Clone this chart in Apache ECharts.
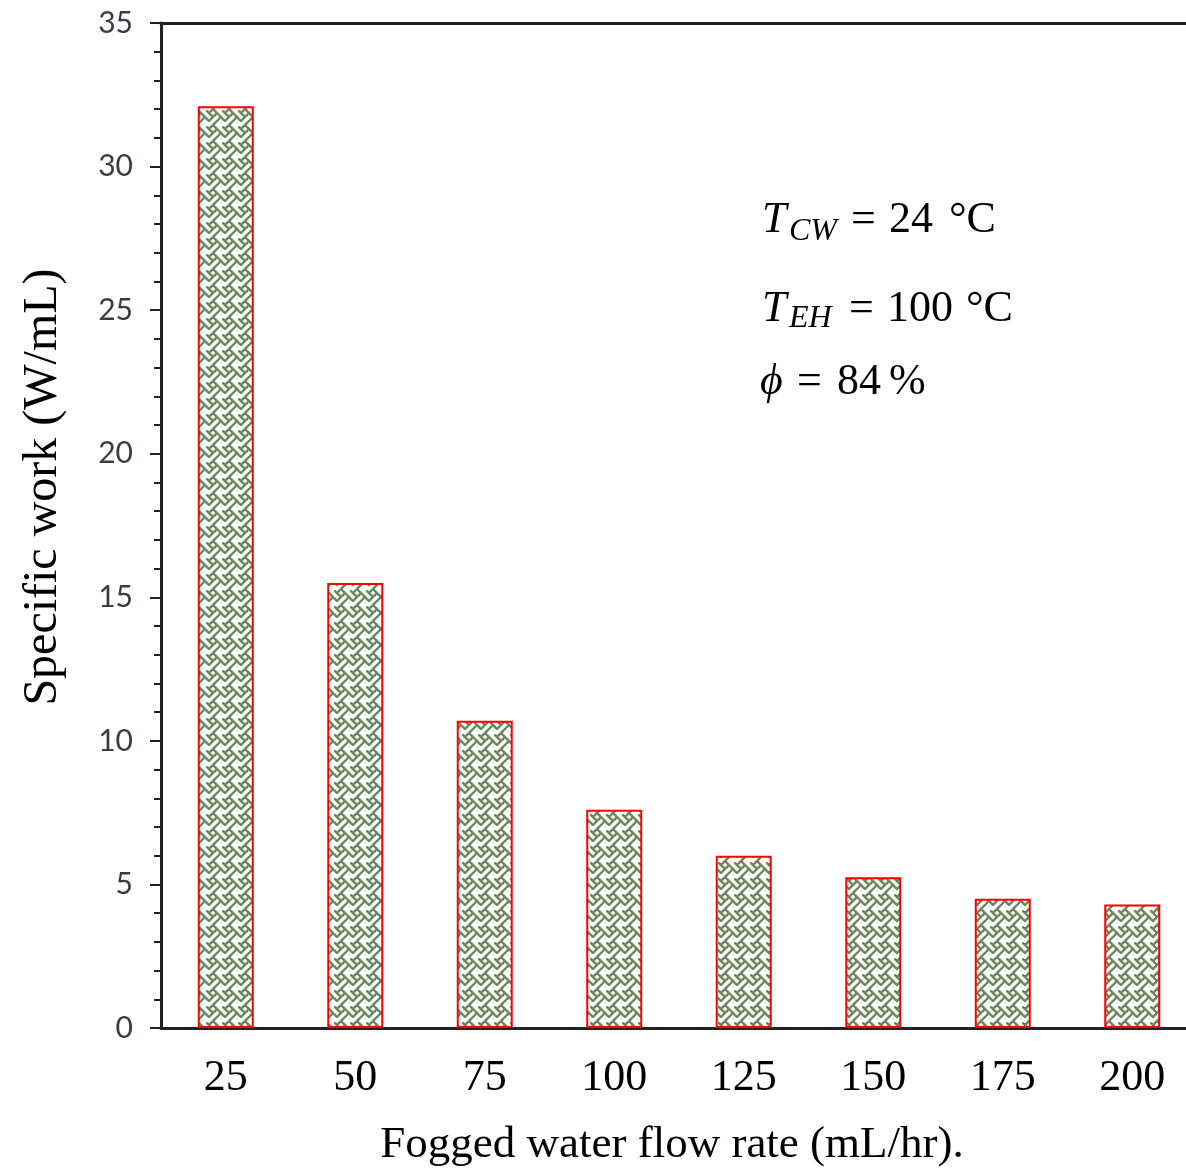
<!DOCTYPE html>
<html>
<head>
<meta charset="utf-8">
<script src="https://cdn.jsdelivr.net/npm/echarts@6/dist/echarts.min.js"></script>
<style>
  html, body { margin: 0; padding: 0; background: #fff; overflow: hidden; }
  /* the reference is cropped on the right, so the chart runs a little past the window */
  #chart { width: 1200px; height: 1171px; }
</style>
</head>
<body>
<div id="chart"></div>
<script>
const flowRates = ['25', '50', '75', '100', '125', '150', '175', '200']
const specificWork = [32.1, 15.5, 10.7, 7.6, 6.0, 5.25, 4.5, 4.3]
const yTicks = { min: 0, max: 35, step: 5 }

// 8x8 weave bitmap; diagonal neighbours get joined by thick strokes
const weaveRows = [0x88, 0x54, 0x22, 0x45, 0x88, 0x10, 0x20, 0x51]
function weaveTile() {
  const s = 2, T = 8 * s
  const c = document.createElement('canvas')
  c.width = T
  c.height = T
  const g = c.getContext('2d')
  g.fillStyle = '#ffffff'
  g.fillRect(0, 0, T, T)
  g.strokeStyle = '#6a875c'
  g.lineWidth = 2.3
  g.lineCap = 'round'
  const on = (r, col) => weaveRows[(r + 8) % 8] & (0x80 >> ((col + 8) % 8))
  for (let r = 0; r < 8; r++) {
    for (let col = 0; col < 8; col++) {
      if (!on(r, col)) continue
      for (const d of [-1, 1]) {
        if (!on(r + 1, col + d)) continue
        for (const ox of [-T, 0, T]) {
          for (const oy of [-T, 0, T]) {
            g.beginPath()
            g.moveTo(ox + (col + 0.5) * s, oy + (r + 0.5) * s)
            g.lineTo(ox + (col + d + 0.5) * s, oy + (r + 1.5) * s)
            g.stroke()
          }
        }
      }
    }
  }
  return c
}

const serif = '"Liberation Serif", "Times New Roman", serif'
const chart = echarts.init(document.getElementById('chart'))

const annot = (x, y, text, size, italic) => ({
  type: 'text', x, y,
  style: {
    text, x: 0, y: 0, fill: '#000',
    font: (italic ? 'italic ' : '') + size + 'px ' + serif,
    textAlign: 'left', textVerticalAlign: 'middle'
  }
})

chart.setOption({
  backgroundColor: '#fff',
  animation: false,
  grid: { left: 161, right: 3, top: 23, bottom: 143 },
  xAxis: [
    {
      type: 'category',
      data: flowRates,
      axisLine: { lineStyle: { color: '#222', width: 3 } },
      axisTick: { alignWithLabel: true, length: 10, lineStyle: { color: '#222', width: 2 } },
      axisLabel: { color: '#000', fontFamily: serif, fontSize: 44, margin: 28 }
    },
    {
      type: 'category',
      position: 'top',
      data: flowRates,
      axisLine: { lineStyle: { color: '#222', width: 3 } },
      axisTick: { show: false },
      axisLabel: { show: false }
    }
  ],
  yAxis: {
    type: 'value',
    min: yTicks.min,
    max: yTicks.max,
    interval: yTicks.step,
    axisLine: { show: true, lineStyle: { color: '#222', width: 3 } },
    axisTick: { show: true, length: 11, lineStyle: { color: '#222', width: 2 } },
    minorTick: { show: true, splitNumber: 5, length: 7, lineStyle: { color: '#222', width: 2 } },
    splitLine: { show: false },
    axisLabel: { color: '#383d45', fontFamily: 'Lato, "Open Sans", sans-serif', fontSize: 30, margin: 28 }
  },
  series: [
    {
      type: 'bar',
      data: specificWork,
      barWidth: 56,
      itemStyle: {
        color: { image: weaveTile(), repeat: 'repeat' },
        borderColor: '#ff0000',
        borderWidth: 2
      }
    }
  ],
  graphic: [
    {
      type: 'text', x: 43, y: 487, rotation: Math.PI / 2,
      style: {
        text: 'Specific work (W/mL)', fill: '#000',
        font: '48px ' + serif, textAlign: 'center', textVerticalAlign: 'middle'
      }
    },
    {
      type: 'text', x: 672, y: 1145,
      style: {
        text: 'Fogged water flow rate (mL/hr).', fill: '#000',
        font: '45px ' + serif, textAlign: 'center', textVerticalAlign: 'middle'
      }
    },
    annot(762, 220, 'T', 44, true),
    annot(789, 232, 'CW', 32, true),
    annot(851, 220, '=', 44, false),
    annot(889, 220, '24', 44, false),
    annot(949, 220, '°C', 44, false),
    annot(762, 309, 'T', 44, true),
    annot(789, 319, 'EH', 32, true),
    annot(849, 309, '=', 44, false),
    annot(887, 309, '100', 44, false),
    annot(966, 309, '°C', 44, false),
    annot(760, 382, 'ϕ', 44, true),
    annot(797, 382, '=', 44, false),
    annot(837, 382, '84', 44, false),
    annot(889, 382, '%', 44, false)
  ]
})
</script>
</body>
</html>
